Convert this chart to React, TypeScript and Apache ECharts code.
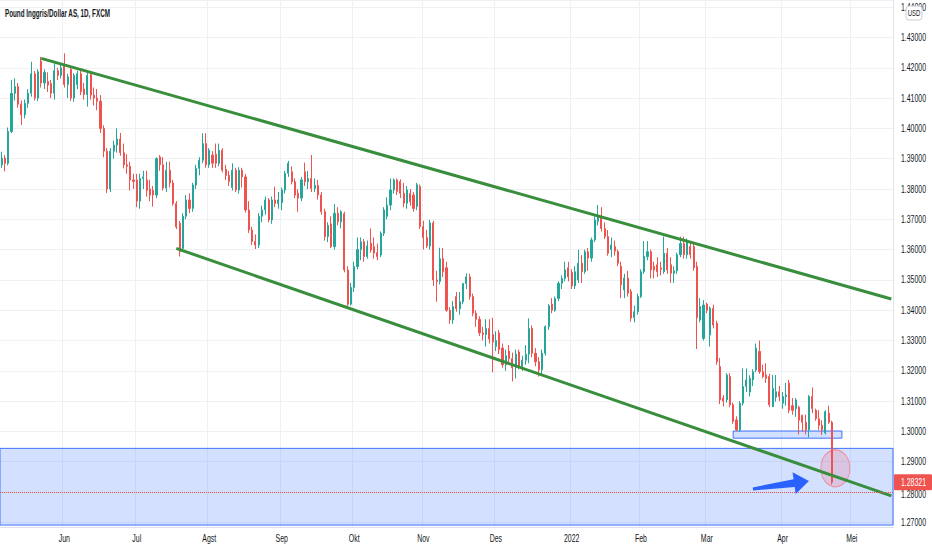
import React, { useEffect, useRef } from "react";
import * as echarts from "echarts";

// Each row: [open, close, low, high]
const MAY_2021 = [
  [1.388, 1.3902, 1.387, 1.3923], [1.3902, 1.3885, 1.3858, 1.3912], [1.3885, 1.399, 1.3878, 1.4003],
  [1.399, 1.4116, 1.3984, 1.416], [1.4116, 1.4138, 1.4092, 1.4165], [1.4138, 1.408, 1.4068, 1.415],
  [1.408, 1.4045, 1.4011, 1.4092], [1.4045, 1.4083, 1.4033, 1.4095], [1.4083, 1.4116, 1.4068, 1.413],
  [1.4116, 1.418, 1.4105, 1.422], [1.418, 1.41, 1.4092, 1.419], [1.41, 1.4187, 1.409, 1.4195],
  [1.4222, 1.415, 1.4135, 1.4236], [1.415, 1.4185, 1.413, 1.4195], [1.4155, 1.4143, 1.412, 1.4185],
  [1.4148, 1.4116, 1.41, 1.416], [1.4116, 1.419, 1.4095, 1.4215], [1.419, 1.4175, 1.416, 1.42],
  [1.4175, 1.42, 1.4165, 1.4215],
];
const JUN_2021 = [
  [1.4205, 1.4145, 1.4135, 1.4248], [1.4145, 1.417, 1.41, 1.418], [1.4195, 1.41, 1.409, 1.42],
  [1.41, 1.4175, 1.4088, 1.4182], [1.4145, 1.418, 1.413, 1.419], [1.418, 1.4122, 1.411, 1.419],
  [1.413, 1.4112, 1.4095, 1.415], [1.4112, 1.4175, 1.4072, 1.4185], [1.4178, 1.411, 1.4095, 1.4185],
  [1.411, 1.41, 1.4075, 1.4135], [1.41, 1.409, 1.406, 1.413], [1.409, 1.4, 1.3985, 1.411],
  [1.4, 1.3925, 1.3905, 1.401], [1.3925, 1.38, 1.3787, 1.3935], [1.38, 1.3925, 1.379, 1.3935],
  [1.3925, 1.3945, 1.39, 1.396], [1.3945, 1.3965, 1.392, 1.4], [1.3965, 1.392, 1.391, 1.3985],
  [1.392, 1.388, 1.3868, 1.395], [1.388, 1.3875, 1.385, 1.3915], [1.3875, 1.383, 1.3795, 1.389],
  [1.383, 1.3825, 1.38, 1.385],
];
const JUL_2021 = [
  [1.383, 1.376, 1.374, 1.385], [1.376, 1.3835, 1.3735, 1.385], [1.3835, 1.384, 1.38, 1.386],
  [1.383, 1.3795, 1.3775, 1.386], [1.38, 1.378, 1.376, 1.383], [1.3795, 1.378, 1.3742, 1.381],
  [1.378, 1.39, 1.377, 1.3905], [1.3906, 1.388, 1.386, 1.3912], [1.388, 1.3803, 1.3795, 1.3905],
  [1.3803, 1.3862, 1.379, 1.389], [1.3862, 1.382, 1.3805, 1.389], [1.382, 1.3752, 1.3745, 1.383],
  [1.3752, 1.3675, 1.3668, 1.376], [1.3687, 1.3593, 1.3577, 1.3695], [1.3604, 1.371, 1.3595, 1.372],
  [1.371, 1.3764, 1.37, 1.378], [1.3764, 1.3736, 1.372, 1.3785], [1.3736, 1.3813, 1.3725, 1.382],
  [1.3813, 1.3868, 1.38, 1.388], [1.3868, 1.3895, 1.3845, 1.3905], [1.3895, 1.395, 1.3885, 1.3984],
  [1.395, 1.388, 1.387, 1.3984],
];
const AUG_2021 = [
  [1.388, 1.3928, 1.387, 1.3935], [1.3912, 1.3885, 1.387, 1.3925], [1.3915, 1.3885, 1.387, 1.395],
  [1.3885, 1.3928, 1.3875, 1.395], [1.3928, 1.3862, 1.3855, 1.3935], [1.3865, 1.3845, 1.383, 1.388],
  [1.3845, 1.3825, 1.381, 1.386], [1.3805, 1.3862, 1.3795, 1.3885], [1.3862, 1.3797, 1.379, 1.387],
  [1.3797, 1.3862, 1.3785, 1.3872], [1.3862, 1.384, 1.3805, 1.387], [1.384, 1.3731, 1.3722, 1.385],
  [1.3731, 1.3665, 1.3655, 1.376], [1.3665, 1.3627, 1.3615, 1.3675], [1.3627, 1.3615, 1.3602, 1.365],
  [1.3615, 1.371, 1.3605, 1.372], [1.371, 1.3731, 1.369, 1.3745], [1.3731, 1.3764, 1.3715, 1.3775],
  [1.3764, 1.3698, 1.369, 1.377], [1.3698, 1.3764, 1.3685, 1.3775], [1.3764, 1.3752, 1.374, 1.3808],
  [1.3752, 1.3764, 1.3735, 1.379],
];
const SEP_2021 = [
  [1.3755, 1.3797, 1.373, 1.3805], [1.3797, 1.3852, 1.3785, 1.386], [1.3852, 1.3885, 1.384, 1.3893],
  [1.3857, 1.3824, 1.3815, 1.3875], [1.3824, 1.378, 1.377, 1.3835], [1.3786, 1.377, 1.3725, 1.38],
  [1.377, 1.383, 1.376, 1.384], [1.3857, 1.3824, 1.381, 1.3887], [1.3824, 1.3835, 1.38, 1.386],
  [1.3835, 1.3802, 1.379, 1.3912], [1.3802, 1.3812, 1.379, 1.3835], [1.3812, 1.378, 1.3765, 1.383],
  [1.378, 1.3725, 1.3715, 1.379], [1.3725, 1.3643, 1.363, 1.3735], [1.3643, 1.368, 1.3625, 1.369],
  [1.3685, 1.361, 1.3605, 1.371], [1.361, 1.372, 1.36, 1.375], [1.372, 1.3692, 1.368, 1.374],
  [1.3692, 1.3725, 1.367, 1.373], [1.3718, 1.3533, 1.3525, 1.3725], [1.3533, 1.342, 1.3412, 1.3545],
  [1.342, 1.3475, 1.3415, 1.349],
];
const OCT_2021 = [
  [1.3475, 1.3544, 1.346, 1.356], [1.3544, 1.36, 1.3535, 1.364], [1.36, 1.3626, 1.3565, 1.364],
  [1.3626, 1.3577, 1.356, 1.3635], [1.3577, 1.3612, 1.357, 1.363], [1.3621, 1.3599, 1.359, 1.367],
  [1.361, 1.3588, 1.357, 1.364], [1.359, 1.3577, 1.3565, 1.362], [1.3582, 1.3654, 1.3575, 1.366],
  [1.3654, 1.3731, 1.3645, 1.374], [1.371, 1.3747, 1.37, 1.3773], [1.3747, 1.3797, 1.373, 1.3835],
  [1.3797, 1.383, 1.3785, 1.3835], [1.383, 1.3792, 1.378, 1.3835], [1.3825, 1.3786, 1.377, 1.3832],
  [1.3786, 1.3753, 1.374, 1.382], [1.3753, 1.3797, 1.3735, 1.381], [1.3786, 1.3758, 1.3745, 1.38],
  [1.378, 1.3736, 1.3725, 1.379], [1.3742, 1.3814, 1.373, 1.382], [1.3808, 1.3676, 1.3668, 1.3815],
];
const NOV_2021 = [
  [1.3676, 1.364, 1.36, 1.3695], [1.364, 1.3612, 1.3605, 1.3665], [1.3612, 1.3688, 1.36, 1.3698],
  [1.3688, 1.35, 1.348, 1.3695], [1.35, 1.3495, 1.3428, 1.353], [1.3495, 1.357, 1.3485, 1.3606],
  [1.357, 1.3527, 1.351, 1.3605], [1.354, 1.34, 1.3395, 1.356], [1.34, 1.3368, 1.3355, 1.341],
  [1.3368, 1.3412, 1.3355, 1.343], [1.3445, 1.3405, 1.3395, 1.346], [1.3405, 1.3428, 1.3385, 1.346],
  [1.3428, 1.3488, 1.342, 1.349], [1.3488, 1.351, 1.347, 1.3522], [1.351, 1.3445, 1.3435, 1.352],
  [1.3445, 1.339, 1.338, 1.3455], [1.339, 1.337, 1.3345, 1.34], [1.337, 1.3325, 1.3315, 1.338],
  [1.3325, 1.332, 1.33, 1.3345], [1.332, 1.334, 1.328, 1.337], [1.334, 1.3305, 1.329, 1.337],
  [1.332, 1.3295, 1.3195, 1.3375],
];
const DEC_2021 = [
  [1.328, 1.33, 1.3265, 1.333], [1.3325, 1.327, 1.3255, 1.3335], [1.3275, 1.322, 1.321, 1.329],
  [1.322, 1.325, 1.32, 1.327], [1.3265, 1.324, 1.3225, 1.3285], [1.324, 1.321, 1.3165, 1.326],
  [1.321, 1.3255, 1.3175, 1.327], [1.3262, 1.3215, 1.3205, 1.327], [1.3215, 1.3235, 1.32, 1.325],
  [1.3235, 1.3255, 1.322, 1.3285], [1.3255, 1.334, 1.3225, 1.3373], [1.334, 1.3258, 1.3245, 1.335],
  [1.3258, 1.323, 1.3215, 1.3275], [1.323, 1.3203, 1.3181, 1.3245], [1.3203, 1.3258, 1.319, 1.327],
  [1.3258, 1.3346, 1.325, 1.335], [1.3346, 1.3415, 1.3335, 1.342], [1.342, 1.34, 1.339, 1.344],
  [1.34, 1.3439, 1.3395, 1.3445], [1.3439, 1.3489, 1.343, 1.3495], [1.3489, 1.3505, 1.347, 1.3515],
  [1.3505, 1.3533, 1.3495, 1.356], [1.354, 1.351, 1.3495, 1.356],
];
const JAN_2022 = [
  [1.3525, 1.348, 1.347, 1.3535], [1.348, 1.3527, 1.347, 1.3545], [1.35, 1.3555, 1.349, 1.36],
  [1.3555, 1.3527, 1.349, 1.3582], [1.3527, 1.3593, 1.352, 1.36], [1.3593, 1.3572, 1.353, 1.3605],
  [1.3572, 1.3632, 1.356, 1.364], [1.3632, 1.3698, 1.3625, 1.371], [1.3693, 1.371, 1.368, 1.3747],
  [1.3704, 1.367, 1.366, 1.374], [1.367, 1.3643, 1.3635, 1.369], [1.3643, 1.3588, 1.358, 1.3665],
  [1.36, 1.3615, 1.3575, 1.364], [1.361, 1.3595, 1.358, 1.363], [1.3594, 1.3555, 1.3545, 1.36],
  [1.3545, 1.3484, 1.344, 1.356], [1.3467, 1.3506, 1.344, 1.352], [1.3506, 1.3456, 1.3445, 1.353],
  [1.3462, 1.3374, 1.3362, 1.347], [1.3375, 1.3395, 1.336, 1.3415], [1.3395, 1.3445, 1.3385, 1.3455],
];
const FEB_2022 = [
  [1.3445, 1.3527, 1.344, 1.3535], [1.3527, 1.3577, 1.352, 1.3628], [1.3577, 1.3593, 1.3565, 1.3628],
  [1.3593, 1.3533, 1.3505, 1.36], [1.3545, 1.3533, 1.3505, 1.356], [1.355, 1.3527, 1.351, 1.3575],
  [1.354, 1.3535, 1.3515, 1.356], [1.3527, 1.3588, 1.352, 1.3643], [1.3588, 1.3533, 1.352, 1.3605],
  [1.355, 1.3522, 1.349, 1.3575], [1.3522, 1.353, 1.349, 1.3545], [1.353, 1.3583, 1.352, 1.359],
  [1.3583, 1.362, 1.3575, 1.3643], [1.362, 1.3583, 1.357, 1.3643], [1.3583, 1.3627, 1.357, 1.3637],
  [1.361, 1.3583, 1.357, 1.3625], [1.361, 1.354, 1.353, 1.362], [1.3545, 1.3375, 1.3272, 1.356],
  [1.3368, 1.3412, 1.336, 1.344], [1.3307, 1.3417, 1.33, 1.3433],
];
const MAR_2022 = [
  [1.342, 1.34, 1.339, 1.3425], [1.3318, 1.3407, 1.328, 1.3412], [1.3406, 1.3351, 1.334, 1.3418],
  [1.3357, 1.323, 1.322, 1.3365], [1.3214, 1.3104, 1.309, 1.3242], [1.311, 1.31, 1.3082, 1.312],
  [1.3104, 1.3186, 1.3095, 1.3192], [1.3181, 1.3088, 1.308, 1.3192], [1.3088, 1.3033, 1.3025, 1.3095],
  [1.3038, 1.3005, 1.3, 1.305], [1.3005, 1.3093, 1.2998, 1.31], [1.3093, 1.3148, 1.3085, 1.3208],
  [1.3148, 1.317, 1.313, 1.3208], [1.313, 1.3175, 1.3115, 1.3185], [1.317, 1.3197, 1.315, 1.3205],
  [1.3203, 1.3275, 1.3195, 1.329], [1.3264, 1.3197, 1.319, 1.33], [1.3197, 1.3181, 1.3175, 1.322],
  [1.3186, 1.3175, 1.316, 1.3225], [1.3181, 1.3088, 1.308, 1.319], [1.3082, 1.3142, 1.308, 1.3186],
  [1.3113, 1.3131, 1.3098, 1.3186], [1.3131, 1.3115, 1.31, 1.315],
];
const APR_2022 = [
  [1.3093, 1.3115, 1.3075, 1.313], [1.3115, 1.312, 1.3085, 1.316], [1.316, 1.307, 1.306, 1.317],
  [1.3085, 1.307, 1.3055, 1.311], [1.3075, 1.3104, 1.3048, 1.311], [1.308, 1.3037, 1.299, 1.3085],
  [1.3053, 1.303, 1.3, 1.3055], [1.303, 1.3005, 1.299, 1.3055], [1.3005, 1.3115, 1.298, 1.312],
  [1.3115, 1.3075, 1.306, 1.3145], [1.307, 1.3042, 1.3035, 1.3075], [1.3042, 1.302, 1.3005, 1.307],
  [1.302, 1.3005, 1.2988, 1.3037], [1.2995, 1.3065, 1.299, 1.307], [1.306, 1.303, 1.3025, 1.3085],
  [1.303, 1.28321, 1.2825, 1.3035],
];

const FIRST_DAY = "2021-05-05";
const LAST_DAY = "2022-05-18";
const MONTH_NAMES = ["Jan", "Feb", "Mar", "Apr", "Mei", "Jun", "Jul", "Agst", "Sep", "Okt", "Nov", "Des"];
const Y_TICKS = [1.27, 1.28, 1.29, 1.3, 1.31, 1.32, 1.33, 1.34, 1.35, 1.36, 1.37, 1.38, 1.39, 1.4, 1.41, 1.42, 1.43, 1.44];

const LAST_PRICE = 1.28321;
const Y_RANGE = [1.26845, 1.44238];
const UPPER_TREND = [["2021-05-21", 1.4231], ["2022-05-18", 1.3437]];
const LOWER_TREND = [["2021-07-19", 1.3604], ["2022-05-18", 1.2787]];
const SUPPORT_ZONE = [1.2944, 1.2691];
const SMALL_BOX = [["2022-03-11", 1.30013], ["2022-04-27", 1.29777]];
const ELLIPSE_AT = ["2022-04-25", 1.28782];
const ARROW = [["2022-03-21", 1.281], ["2022-04-13", 1.28363]];

const TITLE = "Pound Inggris/Dollar AS, 1D, FXCM";
const FONT = "'Liberation Sans', Arial, sans-serif";
const SQUEEZE = 0.66;

function weekdays(from: string, to: string): string[] {
  const out: string[] = [];
  const [fy, fm, fd] = from.split("-").map(Number);
  const [ty, tm, td] = to.split("-").map(Number);
  let t = Date.UTC(fy, fm - 1, fd);
  const end = Date.UTC(ty, tm - 1, td);
  while (t <= end) {
    const d = new Date(t);
    const wd = d.getUTCDay();
    if (wd !== 0 && wd !== 6) out.push(d.toISOString().slice(0, 10));
    t += 86400000;
  }
  return out;
}

export default function App() {
  const ref = useRef<HTMLDivElement>(null);
  useEffect(() => {
    if (!ref.current) return;
    const chart = echarts.init(ref.current, null, { renderer: "svg" });
    const dates = weekdays(FIRST_DAY, LAST_DAY);
    const candles = [
      ...MAY_2021, ...JUN_2021, ...JUL_2021, ...AUG_2021, ...SEP_2021, ...OCT_2021,
      ...NOV_2021, ...DEC_2021, ...JAN_2022, ...FEB_2022, ...MAR_2022, ...APR_2022,
    ];
    const isMonthStart = (idx: number) =>
      idx > 0 && dates[idx].slice(5, 7) !== dates[idx - 1].slice(5, 7);
    const monthLabel = (v: string) => {
      const m = Number(v.slice(5, 7));
      return m === 1 ? v.slice(0, 4) : MONTH_NAMES[m - 1];
    };
    const green = "#388e3c";
    const arrowData = [[
      dates.indexOf(ARROW[0][0] as string), ARROW[0][1],
      dates.indexOf(ARROW[1][0] as string), ARROW[1][1],
    ]];

    chart.setOption({
      animation: false,
      backgroundColor: "#ffffff",
      grid: { left: 0, right: 39, top: 0, bottom: 23, containLabel: false, outerBoundsMode: "none" },
      xAxis: {
        type: "category",
        data: dates,
        boundaryGap: true,
        axisLine: { show: true, lineStyle: { color: "#e0e3eb" } },
        axisTick: { show: false, alignWithLabel: true, interval: (i: number) => isMonthStart(i) },
        axisLabel: { show: false },
        splitLine: {
          show: true,
          interval: (i: number) => isMonthStart(i),
          lineStyle: { color: "#eef0f4", width: 1 },
        },
      },
      yAxis: {
        type: "value",
        position: "right",
        min: Y_RANGE[0],
        max: Y_RANGE[1],
        splitNumber: 17,
        scale: true,
        axisLine: { show: true, lineStyle: { color: "#e0e3eb" } },
        axisTick: { show: false },
        axisLabel: { show: false },
        splitLine: { show: true, lineStyle: { color: "#eef0f4", width: 1 } },
      },
      series: [
        {
          type: "candlestick",
          data: candles,
          barWidth: 1.6,
          z: 3,
          itemStyle: {
            color: "#26a69a",
            color0: "#ef5350",
            borderColor: "#26a69a",
            borderColor0: "#ef5350",
            borderWidth: 1,
          },
          markArea: {
            silent: true,
            data: [
              [
                {
                  yAxis: SUPPORT_ZONE[0],
                  itemStyle: { color: "rgba(41,98,255,0.2)", borderColor: "#3f73ff", borderWidth: 1 },
                },
                { yAxis: SUPPORT_ZONE[1] },
              ],
              [
                {
                  coord: SMALL_BOX[0],
                  itemStyle: { color: "rgba(41,98,255,0.2)", borderColor: "#3f73ff", borderWidth: 1 },
                },
                { coord: SMALL_BOX[1] },
              ],
            ],
          },
          markLine: {
            silent: true,
            symbol: ["none", "none"],
            label: { show: false },
            data: [
              [
                { coord: UPPER_TREND[0], lineStyle: { color: green, width: 3, type: "solid" } },
                { coord: UPPER_TREND[1] },
              ],
              [
                { coord: LOWER_TREND[0], lineStyle: { color: green, width: 3, type: "solid" } },
                { coord: LOWER_TREND[1] },
              ],
              {
                yAxis: LAST_PRICE,
                lineStyle: { color: "#ef5350", width: 1, type: "dotted" },
              },
            ],
          },
        },
        {
          type: "scatter",
          data: [ELLIPSE_AT],
          symbol: "circle",
          symbolSize: [29, 37],
          silent: true,
          itemStyle: { color: "rgba(242,54,69,0.2)", borderColor: "#f77c80", borderWidth: 1 },
          z: 2,
        },
        {
          type: "custom",
          data: arrowData,
          dimensions: ["x1", "y1", "x2", "y2"],
          encode: { x: [0, 2], y: [1, 3] },
          silent: true,
          z: 6,
          renderItem: (_params: any, api: any) => {
            const t = api.coord([api.value(0), api.value(1)]);
            const p = api.coord([api.value(2), api.value(3)]);
            const dx = p[0] - t[0];
            const dy = p[1] - t[1];
            const len = Math.hypot(dx, dy) || 1;
            const ux = dx / len;
            const uy = dy / len;
            const nx = uy;
            const ny = -ux;
            const head = 15;
            const nk = [p[0] - ux * head, p[1] - uy * head];
            const pt = (b: number[], w: number) => [b[0] + nx * w, b[1] + ny * w];
            return {
              type: "polygon",
              shape: {
                points: [pt(t, 1.5), pt(nk, 4), pt(nk, 11), p, pt(nk, -11), pt(nk, -4), pt(t, -1.5)],
              },
              style: { fill: "#2962ff" },
            };
          },
        },
      ],
    });

    // Axis labels, title and price tag as squeezed texts placed through the chart's own scales.
    const txt = (text: string, x: number, y: number, opts: any = {}) => ({
      type: "text",
      x,
      y,
      scaleX: opts.scaleX ?? SQUEEZE,
      z: opts.z ?? 50,
      silent: true,
      style: {
        text,
        fontSize: opts.fontSize ?? 10.5,
        fontWeight: opts.fontWeight ?? "normal",
        fontFamily: FONT,
        fill: opts.fill ?? "#131722",
        align: opts.align ?? "left",
        verticalAlign: "middle",
      },
    });
    const gx = chart.getWidth() - 39;
    const priceY = chart.convertToPixel({ yAxisIndex: 0 }, LAST_PRICE) as number;
    const graphics: any[] = [];
    Y_TICKS.forEach((v) => {
      let y = chart.convertToPixel({ yAxisIndex: 0 }, v) as number;
      if (Math.abs(y - priceY) < 11) y = priceY + 12;
      graphics.push(txt(v.toFixed(5), gx + 8, y));
    });
    dates.forEach((d, i) => {
      if (isMonthStart(i)) {
        const x = chart.convertToPixel({ xAxisIndex: 0 }, d) as number;
        graphics.push(txt(monthLabel(d), x, 538, { align: "center" }));
      }
    });
    graphics.push(txt(TITLE, 5, 13, { fontWeight: "bold", fontSize: 10.5, scaleX: 0.6 }));
    graphics.push({
      type: "rect",
      z: 60,
      silent: true,
      shape: { x: gx + 1, y: priceY - 8, width: 38, height: 16, r: 1 },
      style: { fill: "#ef5350" },
    });
    graphics.push(txt(LAST_PRICE.toFixed(5), gx + 8, priceY, { fill: "#ffffff", z: 61 }));
    graphics.push({
      type: "rect",
      z: 70,
      silent: true,
      shape: { x: gx + 13, y: 6, width: 16, height: 14, r: 3 },
      style: { fill: "#ffffff", stroke: "#c9ccd4", lineWidth: 1 },
    });
    graphics.push({ ...txt("USD", gx + 21, 13.5, { align: "center", fontSize: 9, z: 71 }) });
    chart.setOption({ graphic: graphics });

    return () => chart.dispose();
  }, []);
  return (
    <div
      ref={ref}
      style={{ position: "fixed", left: 0, top: 0, width: 932, height: 550, background: "#fff" }}
    />
  );
}
